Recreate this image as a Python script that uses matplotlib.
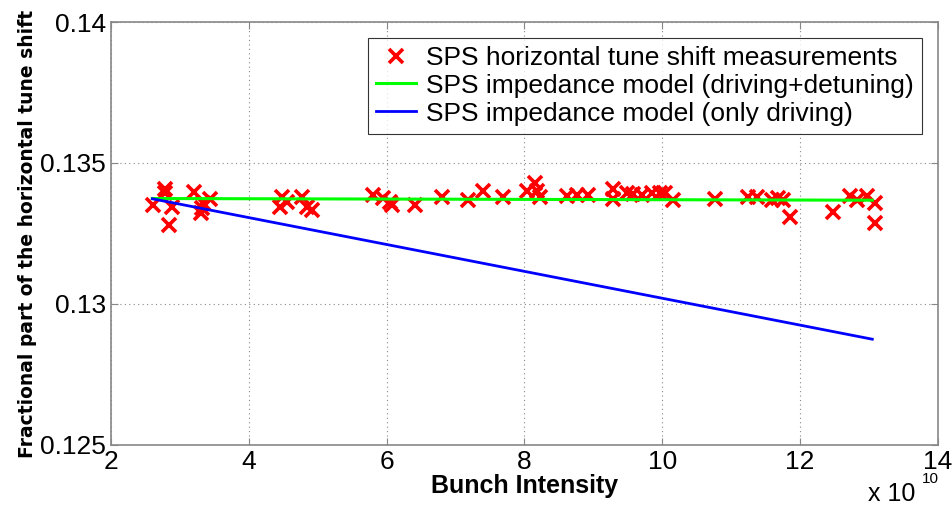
import numpy as np
import matplotlib
matplotlib.use("Agg")
import matplotlib.pyplot as plt
from matplotlib import font_manager

# measured points (bunch intensity in 1e10, fractional tune)
meas_x = [2.61, 2.78, 2.78, 2.89, 2.84, 3.20, 3.44, 3.34, 3.30, 3.32,
          4.48, 4.45, 4.55, 4.77, 4.84, 4.92, 5.80, 5.95, 6.05, 6.08,
          6.41, 6.80, 7.18, 7.40, 7.69, 8.04, 8.15, 8.18, 8.22, 8.62,
          8.76, 8.92, 9.29, 9.29, 9.49, 9.58, 9.71, 9.85, 9.97, 10.04,
          10.16, 10.77, 11.25, 11.37, 11.59, 11.68, 11.75, 11.85, 12.48, 12.73,
          12.83, 12.97, 13.09, 13.09]
meas_y = [0.13352, 0.13408, 0.13394, 0.13345, 0.13281, 0.13398, 0.13373, 0.13359, 0.13323, 0.13340,
          0.13380, 0.13345, 0.13360, 0.13380, 0.13345, 0.13334, 0.13387, 0.13376, 0.13362, 0.13352,
          0.13352, 0.13380, 0.13370, 0.13401, 0.13380, 0.13401, 0.13430, 0.13400, 0.13380, 0.13383,
          0.13387, 0.13387, 0.13408, 0.13372, 0.13394, 0.13390, 0.13387, 0.13394, 0.13394, 0.13392,
          0.13370, 0.13373, 0.13380, 0.13380, 0.13370, 0.13376, 0.13370, 0.13310, 0.13327, 0.13383,
          0.13370, 0.13383, 0.13359, 0.13288]

# impedance models
model_x = [2.6, 13.05]
full_y = [0.13374, 0.13368]
driving_y = [0.13373, 0.12875]

names = {f.name for f in font_manager.fontManager.ttflist}
narrow = "Liberation Sans Narrow" if "Liberation Sans Narrow" in names else "Liberation Sans"
plt.rcParams["font.family"] = [narrow, "DejaVu Sans"]

fig = plt.figure(figsize=(9.52, 5.12), dpi=100)
ax = fig.add_axes([0.1166, 0.131, 0.8684, 0.826])

ax.plot(meas_x, meas_y, "x", color="red", ms=10, mew=2.6,
        label="SPS horizontal tune shift measurements")
ax.plot(model_x, full_y, color="#00ff00", lw=2.2,
        label="SPS impedance model (driving+detuning)")
ax.plot(model_x, driving_y, color="blue", lw=2.0,
        label="SPS impedance model (only driving)")

ax.set_xlim(2, 14)
ax.set_ylim(0.125, 0.14)
ax.set_xticks([2, 4, 6, 8, 10, 12, 14])
ax.set_yticks([0.125, 0.13, 0.135, 0.14])
ax.set_yticklabels(["0.125", "0.13", "0.135", "0.14"])
ax.grid(True, linestyle=(0, (1, 3)), color="#888888", lw=0.8)
ax.tick_params(direction="in", labelsize=19, length=5, color="#888888",
               top=True, right=True)
for s in ax.spines.values():
    s.set_color("#888888")
    s.set_linewidth(1.2)

ax.set_xlabel("Bunch Intensity", fontsize=18, fontweight="bold", labelpad=0)
ax.set_ylabel("Fractional part of the horizontal tune shift", fontsize=13.5,
              fontweight="bold", family="DejaVu Sans", labelpad=2)
fig.text(0.912, 0.012, "x 10", fontsize=18, ha="left", va="bottom")
fig.text(0.968, 0.05, "10", fontsize=11, ha="left", va="bottom")

leg = ax.legend(loc="upper right", fontsize=19, frameon=True, fancybox=False,
                edgecolor="black", handlelength=1.5, borderpad=0.3,
                labelspacing=0.15, handletextpad=0.4, borderaxespad=0.6)
leg.get_frame().set_linewidth(0.8)

fig.savefig("out.png", dpi=100)
